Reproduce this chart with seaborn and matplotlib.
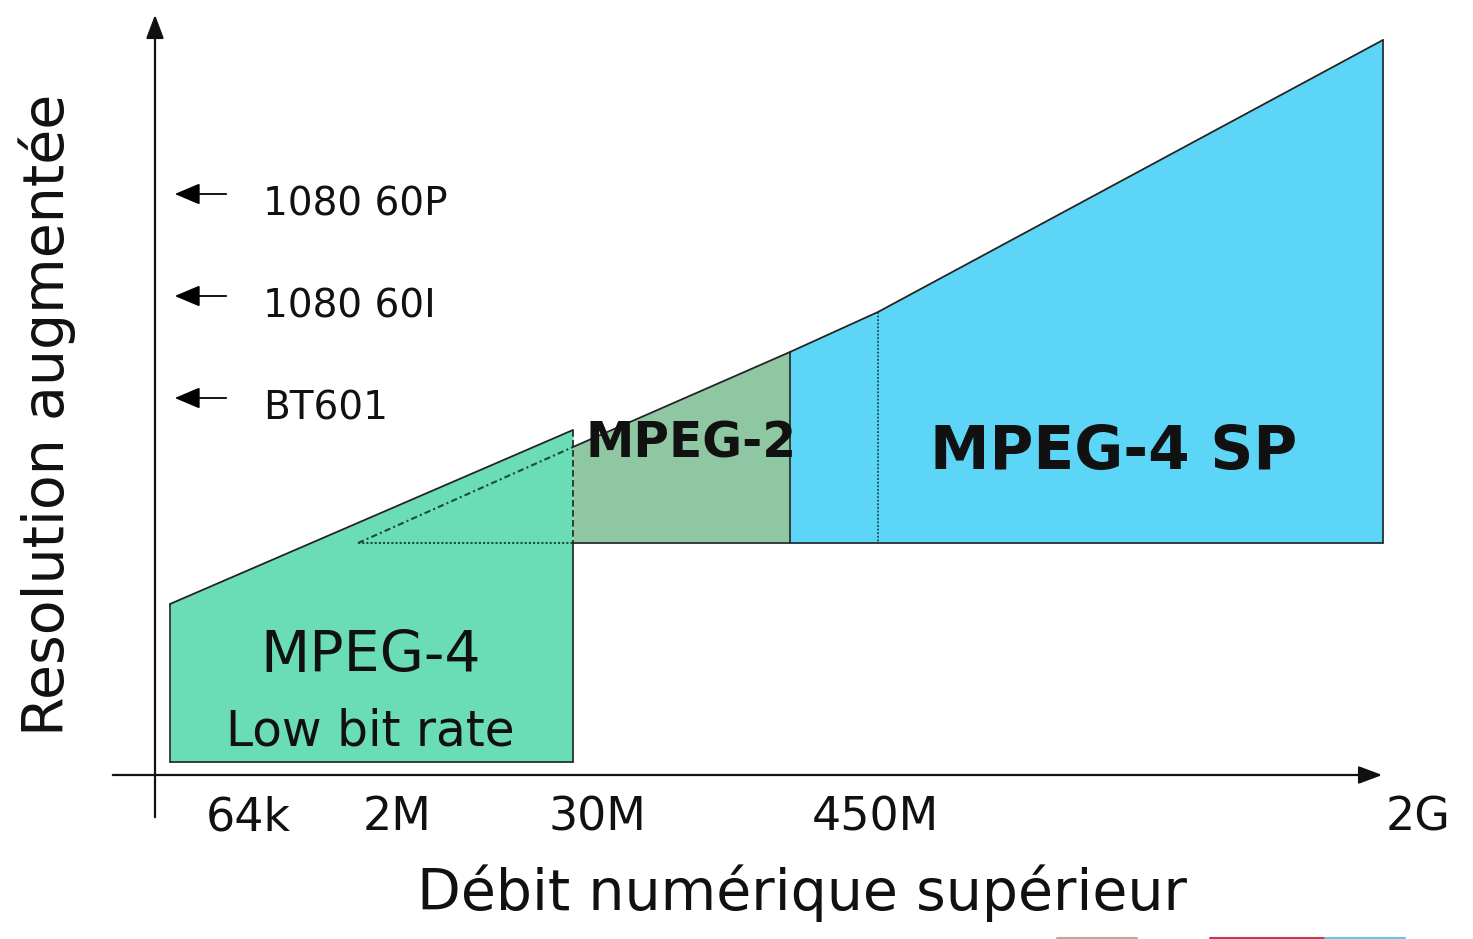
import matplotlib
matplotlib.use("Agg")
import matplotlib.pyplot as plt
import seaborn as sns
import pandas as pd

# regions: x extent (px) and top-edge heights, bottom level
low_x = [170, 573]
low_top = [604, 430]
low_bottom = 762
mp2_x = [573, 790]
mp2_top = [447, 352]
mp2_bottom = 543
sp_x = [790, 878, 1383]
sp_top = [352, 312, 40]
sp_bottom = 543

region_labels = ["MPEG-4", "Low bit rate", "MPEG-2", "MPEG-4 SP"]
rate_labels = ["64k", "2M", "30M", "450M", "2G"]
rate_pos = [248, 397, 597, 875, 1418]
format_labels = ["1080 60P", "1080 60I", "BT601"]
format_pos = [200, 302, 404]

colors = {"low": "#6adcb6", "mp2": "#8fc7a2", "sp": "#5cd5f6"}

sns.set_theme(style="white")
plt.rcParams['font.family'] = ['DejaVu Sans']

fig = plt.figure(figsize=(14.73, 9.39), dpi=100)
ax = fig.add_axes([0, 0, 1, 1])
ax.set_xlim(0, 1473)
ax.set_ylim(939, 0)
ax.axis("off")

# filled regions
ax.fill_between(low_x, low_top, low_bottom, color=colors["low"], lw=0, zorder=1)
ax.fill_between(mp2_x, mp2_top, mp2_bottom, color=colors["mp2"], lw=0, zorder=1)
ax.fill_between(sp_x, sp_top, sp_bottom, color=colors["sp"], lw=0, zorder=1)

# top edges
edges = pd.DataFrame({
    "x": low_x + mp2_x + sp_x,
    "y": low_top + mp2_top + sp_top,
    "region": ["low"] * 2 + ["mp2"] * 2 + ["sp"] * 3,
})
sns.lineplot(data=edges, x="x", y="y", units="region", estimator=None,
             sort=False, color="#222222", lw=1.3, ax=ax, zorder=3)

# outlines
k = "#222222"
ax.plot([low_x[0], low_x[0]], [low_top[0], low_bottom], color=k, lw=1.2)
ax.plot(low_x, [low_bottom, low_bottom], color=k, lw=1.2)
ax.plot([low_x[1], low_x[1]], [mp2_bottom, low_bottom], color=k, lw=1.2)
ax.plot([low_x[1], low_x[1]], [low_top[1], mp2_bottom], color=k, lw=1.2, ls=(0, (4, 2)))
ax.plot([358, low_x[1]], [mp2_bottom, mp2_bottom], color="#1a4a3a", lw=1.5, ls=(0, (1, 1)))
ax.plot([358, low_x[1]], [mp2_bottom, mp2_top[0]], color="#1a4a3a", lw=1.5, ls=(0, (3, 1.5, 1, 1.5)))
ax.plot([mp2_x[0], sp_x[-1]], [mp2_bottom, sp_bottom], color=k, lw=1.2)
ax.plot([mp2_x[1], mp2_x[1]], [mp2_top[1], mp2_bottom], color=k, lw=1.2)
ax.plot([sp_x[1], sp_x[1]], [sp_top[1], sp_bottom], color="#1a4a5a", lw=1.3, ls=(0, (1, 1)))
ax.plot([sp_x[2], sp_x[2]], [sp_top[2], sp_bottom], color=k, lw=1.2)

# axes arrows
ax.annotate("", xy=(155, 12), xytext=(155, 820),
            arrowprops=dict(arrowstyle="-|>,head_length=1.2,head_width=0.45", color="#111111", lw=1.6))
ax.annotate("", xy=(1385, 775), xytext=(110, 775),
            arrowprops=dict(arrowstyle="-|>,head_length=1.2,head_width=0.45", color="#111111", lw=1.6))

# resolution markers
for lab, yy in zip(format_labels, format_pos):
    ax.annotate("", xy=(172, yy - 6), xytext=(229, yy - 6),
                arrowprops=dict(arrowstyle="-|>,head_length=1.3,head_width=0.55", color="black", lw=1.3))
    ax.text(263, yy + 4, lab, fontsize=28, va="center", ha="left", color="#111111")

# rate ticks
for lab, xx in zip(rate_labels, rate_pos):
    ax.text(xx, 818, lab, fontsize=33, ha="center", va="center", color="#111111")

# region labels
ax.text(371, 657, region_labels[0], fontsize=41, ha="center", va="center", color="#111111")
ax.text(370, 732, region_labels[1], fontsize=35, ha="center", va="center", color="#111111")
ax.text(585, 443, region_labels[2], fontsize=35, fontweight="bold", ha="left", va="center", color="#111111")
ax.text(1114, 452, region_labels[3], fontsize=43, fontweight="bold", ha="center", va="center", color="#111111")

# axis titles
ax.text(47, 415, "Resolution augmentée", fontsize=41, rotation=90, ha="center", va="center", color="#111111")
ax.text(802, 893, "Débit numérique supérieur", fontsize=41, ha="center", va="center", color="#111111")

# stray colour strips at the bottom edge
ax.plot([1057, 1137], [937.5, 937.5], color="#b9ab94", lw=1.5)
ax.plot([1210, 1325], [937.5, 937.5], color="#c23a52", lw=1.5)
ax.plot([1325, 1405], [937.5, 937.5], color="#66c6e2", lw=1.5)

fig.savefig("out.png", dpi=100)
